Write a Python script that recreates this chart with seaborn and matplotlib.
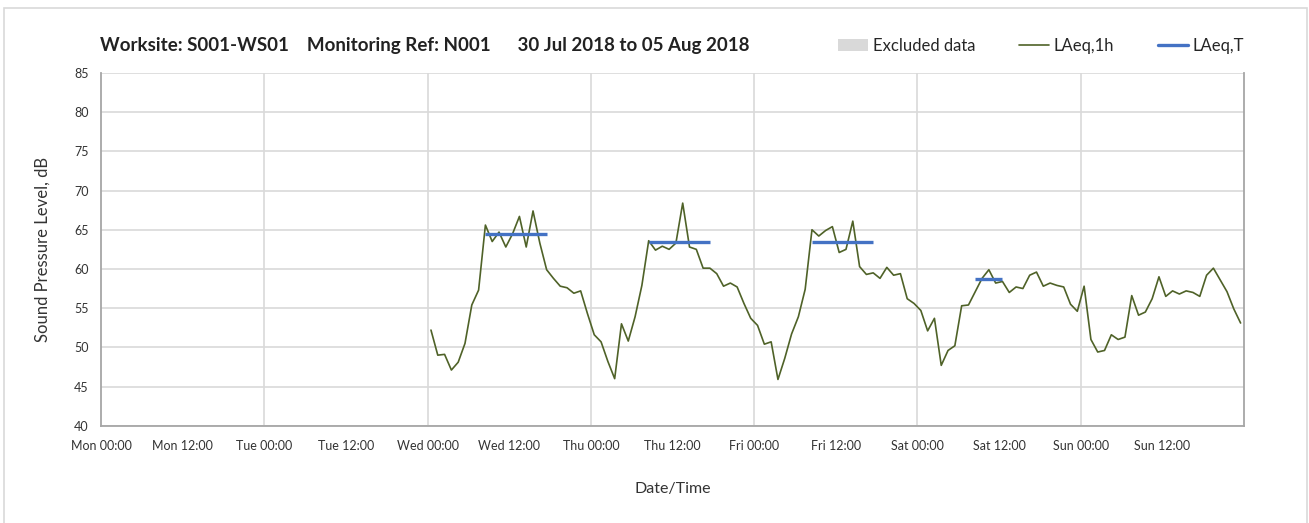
import matplotlib
matplotlib.use("Agg")
import matplotlib.pyplot as plt
import matplotlib.dates as mdates
from matplotlib.patches import Patch, Rectangle
from matplotlib.lines import Line2D
import seaborn as sns
import pandas as pd
import numpy as np

# -------------------------------
# Data
# -------------------------------
axis_start = "2018-07-30 00:00"
axis_end = "2018-08-06 00:00"
first_reading = "2018-08-01 00:30"

# hourly LAeq,1h values (dB), Wed 00:30 onwards
laeq_1h = [
    52.2, 49.0, 49.1, 47.1, 48.1, 50.5, 55.4, 57.3, 65.6, 63.5, 64.7, 62.8,
    64.5, 66.7, 62.8, 67.4, 63.3, 59.9, 58.8, 57.8, 57.6, 56.9, 57.2, 54.3,
    51.6, 50.7, 48.2, 46.0, 53.0, 50.8, 53.9, 57.9, 63.6, 62.4, 62.9, 62.5,
    63.3, 68.4, 62.8, 62.5, 60.1, 60.1, 59.4, 57.8, 58.2, 57.7, 55.6, 53.7,
    52.8, 50.4, 50.7, 45.9, 48.6, 51.7, 53.9, 57.4, 65.0, 64.2, 64.9, 65.4,
    62.1, 62.5, 66.1, 60.3, 59.3, 59.5, 58.8, 60.2, 59.2, 59.4, 56.2, 55.6,
    54.7, 52.1, 53.7, 47.7, 49.6, 50.2, 55.3, 55.4, 57.1, 58.8, 59.9, 58.2,
    58.4, 57.0, 57.7, 57.5, 59.2, 59.6, 57.8, 58.2, 57.9, 57.7, 55.5, 54.6,
    57.8, 51.0, 49.4, 49.6, 51.6, 51.0, 51.3, 56.6, 54.1, 54.5, 56.2, 59.0,
    56.5, 57.2, 56.8, 57.2, 57.0, 56.5, 59.2, 60.1, 58.6, 57.1, 54.9, 53.1,
]

# LAeq,T periods
laeq_t_start = ["2018-08-01 08:30", "2018-08-02 08:30", "2018-08-03 08:30", "2018-08-04 08:30"]
laeq_t_end = ["2018-08-01 17:30", "2018-08-02 17:30", "2018-08-03 17:30", "2018-08-04 12:30"]
laeq_t_level = [64.5, 63.5, 63.5, 58.7]

# no excluded periods in this week
excluded_start = []
excluded_end = []

tick_labels = ["Mon 00:00", "Mon 12:00", "Tue 00:00", "Tue 12:00", "Wed 00:00", "Wed 12:00",
               "Thu 00:00", "Thu 12:00", "Fri 00:00", "Fri 12:00", "Sat 00:00", "Sat 12:00",
               "Sun 00:00", "Sun 12:00", ""]

title = "Worksite: S001-WS01    Monitoring Ref: N001      30 Jul 2018 to 05 Aug 2018"

df = pd.DataFrame({
    "time": pd.date_range(first_reading, periods=len(laeq_1h), freq="h"),
    "LAeq,1h": laeq_1h,
})

# -------------------------------
# Plot
# -------------------------------
sns.set_style("white")
plt.rcParams["font.family"] = ["Lato", "DejaVu Sans"]

green = "#4f6228"
blue = "#4472c4"
grid_c = "#d9d9d9"
spine_c = "#a6a6a6"

fig = plt.figure(figsize=(13.09, 5.23), dpi=100)
ax = fig.add_axes([101 / 1309, 1 - 425.7 / 523, (1244 - 101) / 1309, (425.7 - 73) / 523])

for s, e in zip(excluded_start, excluded_end):
    ax.axvspan(pd.Timestamp(s), pd.Timestamp(e), color=grid_c, lw=0)

sns.lineplot(data=df, x="time", y="LAeq,1h", ax=ax, color=green, lw=1.2, zorder=3)
ax.hlines(laeq_t_level, pd.to_datetime(laeq_t_start), pd.to_datetime(laeq_t_end),
          color=blue, lw=2.4, zorder=4)

ax.set_xlim(pd.Timestamp(axis_start), pd.Timestamp(axis_end))
ax.set_ylim(40, 85)
ax.set_yticks(np.arange(40, 86, 5))

ticks = pd.date_range(axis_start, axis_end, freq="12h")
ax.set_xticks(mdates.date2num(ticks))
ax.set_xticklabels(tick_labels)
day_ticks = pd.date_range(axis_start, axis_end, freq="D")
for d in day_ticks[1:-1]:
    ax.axvline(d, color=grid_c, lw=1.2, zorder=1)
ax.yaxis.grid(True, color=grid_c, lw=1.2, zorder=1)
ax.set_axisbelow(True)

ax.tick_params(axis="both", direction="out", length=5, width=1, color=spine_c,
               labelsize=9, colors="#333333")
ax.tick_params(axis="x", pad=5)
ax.tick_params(axis="y", pad=4)
for name in ["left", "bottom", "right"]:
    ax.spines[name].set_color(spine_c)
    ax.spines[name].set_linewidth(1.3)
ax.spines["top"].set_visible(False)

ax.set_xlabel("Date/Time", fontsize=11.5, color="#333333", labelpad=22)
ax.set_ylabel("Sound Pressure Level, dB", fontsize=12, color="#333333", labelpad=17)

fig.text(100 / 1309, 1 - 45 / 523, title, fontsize=13.5, fontweight="bold", va="center",
         color="#222222")

handles = [Patch(facecolor=grid_c, edgecolor="none"),
           Line2D([0], [0], color=green, lw=1.2),
           Line2D([0], [0], color=blue, lw=2.4)]
fig.legend(handles, ["Excluded data", "LAeq,1h", "LAeq,T"], ncol=3, frameon=False,
           loc="center right", bbox_to_anchor=(0.962, 1 - 46 / 523), fontsize=12,
           handlelength=1.8, handleheight=0.7, handletextpad=0.3, columnspacing=2.6)

fig.patches.append(Rectangle((4 / 1309, -0.05), (1307 - 4) / 1309, 1.05 - 8 / 523,
                             transform=fig.transFigure, fill=False,
                             edgecolor=grid_c, lw=1.2))

fig.savefig("out.png", dpi=100)
plt.close()
